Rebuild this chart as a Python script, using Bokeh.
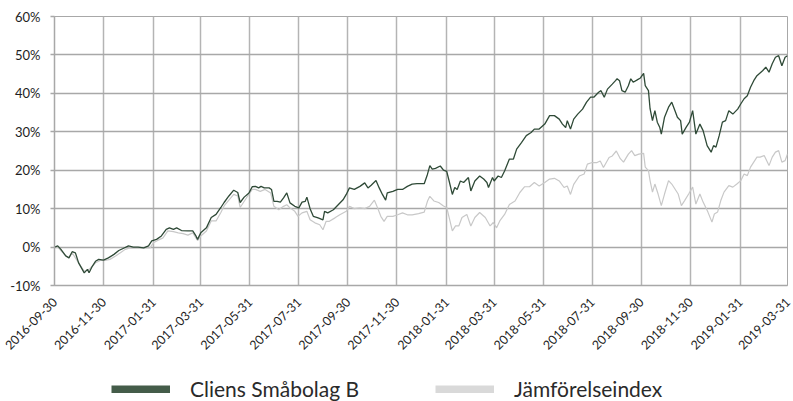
from datetime import datetime, timedelta
from math import pi

from bokeh.plotting import figure
from bokeh.layouts import column
from bokeh.models import (Range1d, FixedTicker, DatetimeTickFormatter,
                          PrintfTickFormatter, Legend, LegendItem)
from bokeh.embed import file_html
from bokeh.resources import INLINE

# ---------------- data ----------------
START = "2016-09-30"

tick_labels = ["2016-09-30", "2016-11-30", "2017-01-31", "2017-03-31",
               "2017-05-31", "2017-07-31", "2017-09-30", "2017-11-30",
               "2018-01-31", "2018-03-31", "2018-05-31", "2018-07-31",
               "2018-09-30", "2018-11-30", "2019-01-31", "2019-03-31"]

y_ticks = [-10, 0, 10, 20, 30, 40, 50, 60]

series_names = ["Cliens Småbolag B", "Jämförelseindex"]

# days since START, value in %
cliens_days = [
    0, 4, 8, 14, 18, 22, 26, 30, 37, 41, 43, 47, 51, 55, 61, 67, 74, 80, 86, 92,
    98, 104, 111, 117, 121, 127, 133, 139, 143, 148, 152, 158, 166, 172, 176, 178,
    182, 189, 195, 201, 207, 211, 217, 223, 228, 231,
    236, 242, 246, 250, 254, 257, 261, 267, 270, 273, 277, 281, 285, 289, 293, 299,
    304, 308, 312, 314, 318, 322, 328, 334, 336, 340, 347, 353, 359, 363, 367, 373,
    380, 386, 390, 394, 400, 404, 408, 412, 414, 421, 427, 433, 439, 445, 451, 460,
    464, 467,
    470, 474, 480, 484, 488, 491, 495, 498, 501, 505, 509, 515, 518, 523, 529, 534,
    538, 540, 545, 547, 552, 556, 560, 566, 571, 575, 581, 587, 593, 597, 603, 610,
    616, 622, 628, 632, 636, 638, 642, 646, 651, 657, 662, 667, 671, 677, 680, 684,
    688, 694, 698,
    700, 703, 706, 710, 714, 717, 720, 725, 729, 733, 735, 739, 741, 744, 747, 750,
    753, 755, 759, 764, 768, 772, 775, 779, 781, 786, 790, 794, 798, 803, 807, 812,
    817, 820, 823, 827, 831, 835, 839, 844, 850, 854, 858, 862, 866, 870, 874, 881,
    885, 889, 893, 897, 901, 905, 909, 912]
cliens_values = [
    0.0, 0.3, -0.6, -2.3, -2.8, -1.2, -1.5, -4.1, -6.7, -5.8, -6.7, -5.0, -3.7, -3.2,
    -3.4, -2.8, -1.9, -0.9, -0.3, 0.3, 0.0, 0.0, -0.2, 0.3, 1.6, 2.0, 2.9, 4.6, 5.0,
    4.6, 5.0, 4.3, 4.2, 4.2, 2.9, 2.0, 3.7, 5.0, 7.7, 8.5, 10.3, 11.6, 13.3, 14.8,
    14.2, 11.6,
    13.0, 14.1, 15.7, 15.8, 15.4, 15.8, 15.4, 15.4, 15.0, 11.9, 11.9, 11.7, 12.8, 14.1,
    11.5, 10.6, 10.2, 11.7, 11.9, 13.0, 10.0, 8.0, 7.6, 7.1, 9.3, 8.9, 9.7, 11.0, 12.3,
    13.7, 15.4, 15.0, 15.8, 16.7, 15.4, 16.1, 17.3, 15.4, 13.7, 12.2, 14.1, 14.5, 15.0,
    15.0, 15.8, 16.4, 16.5, 16.5, 18.9, 21.2,
    20.3, 20.5, 21.1, 20.0, 19.7, 17.2, 13.7, 15.5, 15.0, 17.2, 16.8, 18.1, 14.6, 17.2,
    18.5, 17.7, 16.8, 15.5, 18.1, 17.2, 18.5, 18.1, 19.8, 22.9, 22.9, 25.5, 27.2, 29.0,
    29.8, 30.7, 30.7, 32.0, 34.2, 34.2, 33.3, 32.0, 31.1, 32.9, 30.7, 33.3, 34.6, 35.9,
    37.7, 39.0, 39.0, 40.3, 40.7, 39.0, 41.1, 42.4, 43.3,
    43.8, 43.3, 40.7, 40.3, 42.0, 43.8, 42.9, 43.5, 44.0, 45.2, 42.0, 40.7, 36.0, 32.9,
    35.5, 32.5, 31.2, 29.4, 33.8, 36.4, 37.7, 35.5, 33.8, 32.9, 29.4, 31.2, 32.5, 35.5,
    29.4, 32.0, 30.3, 26.4, 24.7, 26.4, 26.0, 29.0, 32.5, 32.9, 35.5, 34.6, 35.9, 37.3,
    38.6, 39.4, 41.6, 43.3, 44.6, 45.9, 46.8, 45.5, 47.7, 49.4, 49.8, 47.2, 49.4, 49.8]

index_days = [
    0, 4, 14, 18, 22, 30, 37, 43, 47, 51, 57, 63, 69, 76, 82, 88, 94, 100, 106, 112,
    119, 123, 129, 135, 141, 148, 154, 160, 166, 172, 178, 182, 189, 195, 201, 207,
    211, 217, 223, 228, 231,
    242, 246, 250, 256, 262, 269, 273, 279, 285, 289, 293, 299, 303, 308, 314, 318,
    324, 330, 334, 338, 342, 349, 355, 363, 367, 373, 380, 386, 392, 398, 402, 406,
    410, 414, 421, 427, 433, 439, 445, 453, 460, 464, 467,
    472, 478, 484, 488, 491, 495, 499, 503, 507, 513, 518, 523, 529, 536, 542, 546,
    550, 554, 560, 566, 573, 579, 585, 591, 597, 603, 610, 616, 622, 628, 634, 638,
    642, 646, 653, 659, 663, 669, 675, 679, 683, 690, 694, 699,
    704, 708, 714, 718, 722, 727, 733, 735, 739, 741, 744, 747, 751, 755, 759, 764,
    768, 772, 776, 780, 784, 789, 794, 798, 803, 807, 813, 818, 821, 825, 829, 833,
    839, 844, 849, 854, 858, 862, 866, 870, 874, 878, 883, 889, 893, 897, 901, 905,
    909, 912]
index_values = [
    0.0, 0.0, -2.3, -2.8, -1.5, -4.1, -6.3, -5.8, -5.0, -4.1, -3.5, -3.5, -3.2, -2.3,
    -1.5, -0.6, -0.2, -0.3, -0.3, -0.3, -0.2, 1.1, 1.8, 2.4, 4.2, 4.0, 3.7, 3.5, 3.1,
    3.7, 1.7, 2.9, 4.2, 6.8, 6.8, 9.0, 10.7, 12.2, 13.7, 13.3, 10.3,
    13.8, 15.0, 15.0, 14.5, 15.0, 14.1, 10.6, 9.7, 10.6, 11.0, 10.2, 9.3, 8.0, 8.9,
    9.3, 7.1, 6.3, 5.8, 4.5, 6.7, 6.7, 7.6, 8.4, 9.3, 10.6, 10.0, 10.2, 10.0, 10.6,
    12.2, 10.2, 8.0, 6.7, 8.0, 8.0, 8.4, 8.9, 8.4, 8.4, 8.7, 9.1, 11.9, 13.2,
    12.0, 11.6, 10.7, 10.3, 7.7, 4.2, 5.5, 5.5, 7.7, 8.5, 5.5, 7.7, 9.0, 7.7, 5.5,
    6.4, 5.0, 6.8, 8.5, 11.1, 12.0, 14.2, 15.7, 15.7, 16.8, 15.9, 16.8, 17.7, 17.9,
    17.2, 15.5, 15.9, 13.7, 16.3, 18.5, 19.0, 21.6, 22.0, 22.0, 22.4, 20.7, 23.3,
    23.7, 25.0,
    23.0, 22.1, 24.2, 25.1, 23.8, 24.2, 24.4, 20.8, 19.9, 17.3, 14.3, 16.4, 13.8,
    10.8, 13.8, 17.3, 16.4, 15.1, 13.8, 10.8, 12.1, 13.8, 15.6, 11.2, 13.8, 11.7,
    9.1, 6.5, 8.6, 9.1, 12.1, 14.3, 16.0, 15.6, 16.4, 17.3, 19.0, 18.6, 20.8, 22.1,
    23.4, 23.4, 23.8, 21.2, 23.4, 24.7, 25.1, 22.1, 22.5, 24.2]

# ---------------- styling ----------------
FONT = "Lato"
DARK = "#2f4a37"
DARK_LEG = "#445c49"
LIGHT = "#c8c8c8"
LIGHT_LEG = "#d9d9d9"
TEXT = "#1e1e1e"
GRID = "#a8a8a8"

start = datetime.strptime(START, "%Y-%m-%d")
epoch = datetime(1970, 1, 1)


def to_dates(days):
    return [start + timedelta(days=d) for d in days]


tick_dates = [datetime.strptime(t, "%Y-%m-%d") for t in tick_labels]
tick_ms = [(d - epoch).total_seconds() * 1000.0 for d in tick_dates]

# ---------------- main chart ----------------
p = figure(width=793, height=360, x_axis_type="datetime",
           output_backend="svg", toolbar_location=None,
           x_range=Range1d(tick_dates[0], tick_dates[-1]),
           y_range=Range1d(y_ticks[0], y_ticks[-1]),
           min_border_left=54, min_border_right=6,
           min_border_top=16, min_border_bottom=75)

p.background_fill_color = "white"
p.border_fill_color = "white"
p.outline_line_color = GRID
p.outline_line_width = 1

p.xgrid.ticker = FixedTicker(ticks=tick_ms)
p.xgrid.grid_line_color = "#b4b4b4"
p.xgrid.grid_line_width = 1.5
p.ygrid.ticker = FixedTicker(ticks=y_ticks)
p.ygrid.grid_line_color = GRID
p.ygrid.grid_line_width = 1.5

xa = p.xaxis[0]
xa.ticker = FixedTicker(ticks=tick_ms)
fmt = "%Y-%m-%d"
xa.formatter = DatetimeTickFormatter(
    milliseconds=fmt, seconds=fmt, minsec=fmt, minutes=fmt, hourmin=fmt,
    hours=fmt, days=fmt, months=fmt, years=fmt)
xa.major_label_orientation = pi / 4
xa.major_label_text_font = FONT
xa.major_label_text_font_size = "12.5px"
xa.major_label_text_color = TEXT
xa.major_label_standoff = 8
xa.axis_line_color = GRID
xa.axis_line_width = 1.5
xa.major_tick_line_color = None
xa.minor_tick_line_color = None

ya = p.yaxis[0]
ya.ticker = FixedTicker(ticks=y_ticks)
ya.formatter = PrintfTickFormatter(format="%d%%")
ya.major_label_text_font = FONT
ya.major_label_text_font_size = "13px"
ya.major_label_text_color = TEXT
ya.major_label_standoff = 10
ya.axis_line_color = GRID
ya.axis_line_width = 1.5
ya.major_tick_line_color = GRID
ya.major_tick_line_width = 1.5
ya.major_tick_in = 0
ya.major_tick_out = 4
ya.minor_tick_line_color = None

p.line(to_dates(index_days), index_values, line_color=LIGHT, line_width=1.2)
p.line(to_dates(cliens_days), cliens_values, line_color=DARK, line_width=1.3)

# ---------------- legend strip ----------------
lg = figure(width=793, height=41, output_backend="svg", toolbar_location=None,
            x_axis_type=None, y_axis_type=None,
            x_range=Range1d(0, 1), y_range=Range1d(0, 1),
            min_border_left=0, min_border_right=0,
            min_border_top=0, min_border_bottom=0)
lg.outline_line_color = None
lg.background_fill_color = "white"
lg.border_fill_color = "white"

# legend-only renderers: one NaN point each, so nothing is drawn in the frame
nan = float("nan")
leg1 = lg.line(x=[nan], y=[nan], line_color=DARK_LEG, line_width=8)
leg2 = lg.line(x=[nan], y=[nan], line_color=LIGHT_LEG, line_width=8)

legend = Legend(
    items=[LegendItem(label=series_names[0], renderers=[leg1]),
           LegendItem(label=series_names[1], renderers=[leg2])],
    orientation="horizontal", location=(57, 0),
    glyph_width=59, glyph_height=8, label_standoff=20, spacing=68,
    label_width=177,
    label_text_font=FONT, label_text_font_size="21px",
    label_text_color="#2a2a2a", label_text_baseline="middle",
    padding=0, margin=0, border_line_color=None,
    background_fill_alpha=0)
lg.add_layout(legend)

layout = column(p, lg, spacing=0)
open("out.html", "w").write(file_html(layout, INLINE))
